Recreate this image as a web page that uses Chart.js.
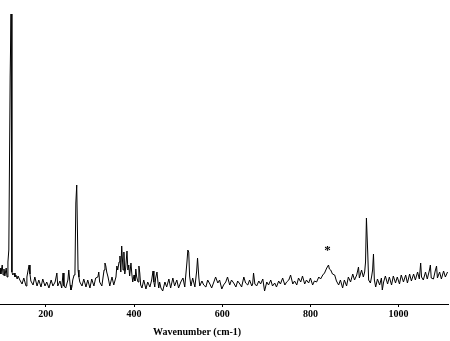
<!DOCTYPE html>
<html>
<head>
<meta charset="utf-8">
<script src="https://cdn.jsdelivr.net/npm/chart.js@4.4.1/dist/chart.umd.min.js"></script>
<style>
  html, body { margin: 0; padding: 0; background: #fff; }
  #wrap { width: 450px; height: 341px; position: relative; }
</style>
</head>
<body>
<div id="wrap"><canvas id="spectrum"></canvas></div>
<script>
// Raman spectrum, values (arbitrary intensity units)
const wavenumber = [
  96, 98, 101, 103, 105, 107, 110, 112, 114, 116, 119, 121, 123, 125, 128, 130, 132, 135, 137, 141,
  146, 150, 155, 157, 159, 162, 164, 166, 171, 175, 180, 184, 189, 193, 198, 202, 207, 212, 216, 221,
  225, 227, 232, 236, 239, 241, 245, 250, 252, 255, 257, 259, 261, 264, 266, 268, 270, 273, 275, 277,
  282, 286, 291, 295, 300, 304, 309, 313, 318, 320, 322, 327, 332, 334, 336, 338, 341, 345, 350, 354,
  359, 361, 363, 366, 368, 370, 372, 375, 377, 379, 381, 384, 386, 388, 390, 393, 395, 397, 400, 402,
  404, 406, 409, 411, 413, 415, 418, 422, 427, 431, 436, 440, 443, 445, 447, 449, 452, 454, 456, 458,
  461, 465, 470, 474, 479, 483, 488, 492, 497, 501, 506, 511, 515, 517, 520, 522, 524, 526, 529, 533,
  538, 540, 542, 544, 547, 549, 554, 558, 563, 567, 572, 576, 581, 585, 590, 594, 599, 603, 608, 612,
  617, 621, 626, 631, 635, 640, 644, 649, 653, 658, 662, 667, 669, 671, 674, 678, 683, 687, 692, 696,
  701, 705, 710, 714, 719, 723, 728, 732, 737, 742, 746, 751, 755, 760, 764, 769, 773, 778, 782, 787,
  791, 796, 800, 805, 809, 814, 819, 823, 828, 832, 837, 841, 843, 846, 850, 855, 859, 864, 868, 873,
  877, 882, 886, 891, 896, 900, 905, 909, 911, 916, 920, 923, 925, 927, 930, 932, 936, 939, 941, 943,
  945, 948, 952, 957, 961, 963, 966, 970, 975, 979, 984, 988, 993, 997, 1002, 1006, 1011, 1016, 1020, 1025,
  1029, 1034, 1038, 1043, 1047, 1050, 1052, 1056, 1061, 1065, 1070, 1072, 1074, 1079, 1083, 1086, 1088, 1093, 1097, 1102,
  1106, 1111
];
const intensity = [
  36, 30, 39, 29, 35, 28, 36, 27, 42, 54, 227, 290, 32, 29, 31, 27, 29, 25, 28, 24,
  20, 26, 18, 27, 32, 39, 30, 23, 19, 27, 18, 24, 17, 25, 18, 22, 16, 24, 18, 22,
  31, 18, 23, 16, 31, 18, 16, 24, 34, 19, 14, 17, 24, 29, 32, 101, 119, 34, 27, 22,
  18, 25, 17, 24, 16, 25, 18, 26, 27, 32, 22, 18, 34, 41, 38, 32, 27, 18, 27, 19,
  27, 38, 34, 42, 48, 32, 58, 34, 52, 30, 36, 53, 34, 39, 28, 41, 30, 22, 29, 23,
  35, 27, 22, 38, 31, 19, 16, 24, 15, 22, 17, 24, 33, 22, 17, 26, 32, 23, 16, 22,
  16, 13, 22, 17, 25, 16, 26, 18, 24, 16, 22, 26, 17, 27, 42, 54, 52, 28, 18, 26,
  17, 25, 33, 46, 26, 18, 23, 19, 17, 24, 20, 16, 22, 27, 21, 24, 15, 19, 22, 27,
  19, 24, 21, 17, 23, 20, 17, 27, 21, 19, 24, 18, 20, 31, 20, 18, 23, 20, 25, 13,
  22, 19, 24, 18, 21, 17, 23, 20, 26, 19, 22, 24, 29, 20, 23, 19, 26, 22, 28, 20,
  24, 21, 26, 19, 23, 22, 27, 25, 29, 31, 36, 39, 35, 34, 30, 29, 23, 19, 24, 16,
  24, 18, 27, 22, 30, 24, 29, 37, 26, 34, 27, 32, 42, 86, 51, 24, 21, 28, 34, 50,
  24, 17, 25, 19, 26, 14, 22, 28, 20, 27, 19, 28, 21, 27, 20, 29, 22, 29, 21, 30,
  23, 30, 24, 32, 25, 41, 27, 24, 32, 25, 34, 39, 26, 25, 33, 38, 26, 32, 25, 33,
  27, 32
];
const tickValues = [200, 400, 600, 800, 1000];
const axisTitle = 'Wavenumber (cm-1)';
const markerLabel = '*';
const markerPos = [839, 56];

const serif = '"Liberation Serif", "Times New Roman", serif';

// draws the axis title (offset left like in the original) and the asterisk over the peak
const annotations = {
  id: 'annotations',
  afterDraw(chart) {
    const { ctx, scales } = chart;
    const x = scales.x, y = scales.y;
    ctx.save();
    ctx.fillStyle = '#000';
    ctx.textAlign = 'center';
    ctx.textBaseline = 'middle';
    ctx.font = 'bold 10px ' + serif;
    ctx.fillText(axisTitle, x.getPixelForValue(543), 332);
    ctx.font = 'bold 13px ' + serif;
    ctx.fillText(markerLabel, x.getPixelForValue(markerPos[0]), y.getPixelForValue(markerPos[1]) + 3);
    ctx.restore();
  }
};

new Chart(document.getElementById('spectrum'), {
  type: 'line',
  data: {
    datasets: [{
      data: wavenumber.map((w, i) => ({ x: w, y: intensity[i] })),
      borderColor: '#000',
      borderWidth: 1,
      pointRadius: 0,
      tension: 0,
      fill: false
    }]
  },
  options: {
    responsive: true,
    maintainAspectRatio: false,
    animation: false,
    layout: { padding: { left: 0, right: 2, top: 0, bottom: 0 } },
    plugins: { legend: { display: false }, tooltip: { enabled: false } },
    scales: {
      x: {
        type: 'linear',
        min: 96,
        max: 1112,
        afterBuildTicks: s => { s.ticks = tickValues.map(v => ({ value: v })); },
        afterFit: s => { s.height = 37; },
        grid: { drawOnChartArea: false, drawTicks: true, tickLength: 3, color: '#000' },
        border: { display: true, color: '#000', width: 1 },
        ticks: {
          color: '#000',
          padding: 1,
          maxRotation: 0,
          callback: v => String(v),
          font: { family: serif, size: 10, weight: 'bold' }
        }
      },
      y: {
        display: false,
        min: 0,
        max: 304
      }
    }
  },
  plugins: [annotations]
});
</script>
</body>
</html>
